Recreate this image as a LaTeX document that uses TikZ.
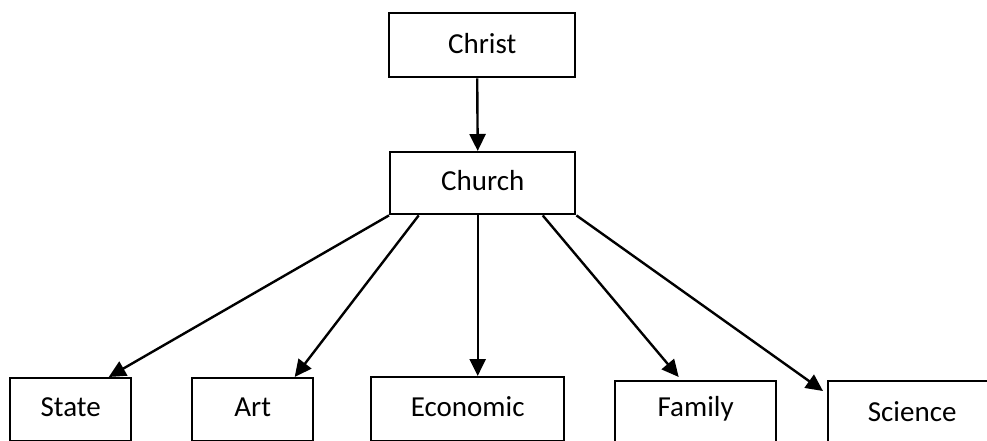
\documentclass[tikz,border=0pt]{standalone}
\usepackage{fontspec}
\setmainfont{Carlito}
\usetikzlibrary{arrows.meta}
\begin{document}
\begin{tikzpicture}[x=1pt,y=-1pt]

        % Styles
        \tikzstyle{box}=[draw, line width=2.4pt, inner sep=0pt, anchor=north west, font=\fontsize{29}{35}\selectfont]
        \tikzstyle{link}=[line width=2.4pt, -{Triangle[length=17pt,width=16pt]}]
        %frame
        \useasboundingbox (0,0) rectangle (987,441);
        \clip (0,0) rectangle (987,441);
        %the boxes
        \node[box, minimum width=186pt, text height=40pt, text depth=24pt] (christ) at (388,12) {Christ};
        \node[box, minimum width=185pt, text height=38pt, text depth=24pt] (church) at (389,151) {Church};
        \node[box, minimum width=121pt, text height=38pt, text depth=25pt] (state) at (9,377) {State};
        \node[box, minimum width=121pt, text height=38pt, text depth=25pt] (art) at (191,377) {Art};
        \node[box, minimum width=193pt, text height=39pt, text depth=25pt] (economic) at (370,376) {Economic};
        \node[box, minimum width=161pt, text height=35pt, text depth=40pt] (family) at (614,380) {Family};
        \node[box, minimum width=168pt, text height=40pt, text depth=40pt] (science) at (827,380) {Science};
        %arrows
        \draw[link] ([xshift=-5pt]christ.south) -- ([xshift=-5pt]church.north);
        \draw[link] (church.south west) -- ([xshift=38pt]state.north);
        \draw[link] ([xshift=-64pt]church.south) -- ([xshift=42pt]art.north);
        \draw[link] ([xshift=-5pt]church.south) -- ([xshift=10pt]economic.north);
        \draw[link] ([xshift=60pt]church.south) -- ([xshift=-17pt,yshift=3pt]family.north);
        \draw[link] (church.south east) -- ([xshift=-4pt,yshift=-11pt]science.north west);
\end{tikzpicture}
\end{document}
